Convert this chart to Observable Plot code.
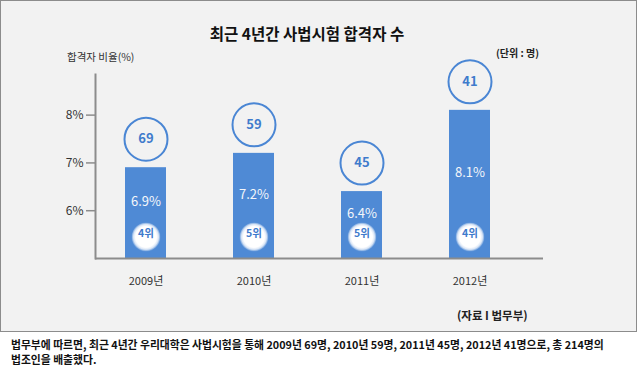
<!DOCTYPE html>
<html><head><meta charset="utf-8">
<script src="https://cdn.jsdelivr.net/npm/d3@7"></script>
<script src="https://cdn.jsdelivr.net/npm/@observablehq/plot@0.6"></script>
<style>
body{margin:0;background:#fff;font-family:"Noto Sans CJK KR","Noto Sans",sans-serif;width:640px;height:367px;position:relative;overflow:hidden;}
#box{position:absolute;left:0;top:0;width:637px;height:332px;box-sizing:border-box;border:1px solid #8c8c8c;background:#f2f2f2;}
.abs{position:absolute;white-space:nowrap;}
#title{left:0;width:614px;top:22px;text-align:center;font-weight:700;font-size:15.5px;line-height:22px;color:#111;}
#ylabel{left:67px;top:50px;font-size:10.5px;line-height:14px;color:#333;}
#unit{left:496px;top:46px;font-size:10px;font-weight:700;line-height:14px;color:#222;}
#source{left:457px;top:308px;font-size:11.5px;font-weight:700;line-height:14px;color:#222;}
.cap{left:11px;font-size:10.8px;font-weight:700;line-height:15px;color:#111;}
#cap1{top:337px;}
#cap2{top:352px;}
#chart{position:absolute;left:0;top:44px;}
</style></head>
<body>
<div id="box"></div>
<div id="title" class="abs">최근 4년간 사법시험 합격자 수</div>
<div id="ylabel" class="abs">합격자 비율(%)</div>
<div id="unit" class="abs">(단위 : 명)</div>
<div id="source" class="abs">(자료 I 법무부)</div>
<div id="cap1" class="abs cap">법무부에 따르면, 최근 4년간 우리대학은 사법시험을 통해 2009년 69명, 2010년 59명, 2011년 45명, 2012년 41명으로, 총 214명의</div>
<div id="cap2" class="abs cap">법조인을 배출했다.</div>
<div id="chart"></div>
<script>
const years = ["2009", "2010", "2011", "2012"];
const rates = [6.9, 7.2, 6.4, 8.1];
const counts = [69, 59, 45, 41];
const ranks = ["4위", "5위", "5위", "4위"];
const yTicks = [6, 7, 8];

const data = years.map((y, i) => ({year: y, rate: rates[i], count: counts[i], rank: ranks[i]}));
const yMin = 5, yMax = 8.85, labelBase = 5.48;
const blue = "#4f8ad5", ringBlue = "#4a86d4", textBlue = "#3f7bcc", axisGray = "#8c8c8c";
const font = '"Noto Sans CJK KR","Noto Sans",sans-serif';

const svg = Plot.plot({
  width: 640, height: 286,
  marginLeft: 95, marginRight: 97, marginTop: 30, marginBottom: 72,
  style: {background: "transparent", fontFamily: font},
  x: {type: "band", domain: years, range: [124, 489.5], paddingInner: 0.625, paddingOuter: 0, label: null},
  y: {domain: [yMin, yMax], label: null},
  marks: [
    Plot.rectY(data, {x: "year", y1: yMin, y2: "rate", fill: blue}),
    Plot.ruleY([yMin], {stroke: axisGray, strokeWidth: 2}),
    Plot.frame({anchor: "left", stroke: axisGray, strokeWidth: 2}),
    Plot.axisY({ticks: yTicks, tickFormat: d => d + "%", tickSize: 9, tickPadding: 3, fontSize: 12, stroke: axisGray, strokeWidth: 1.5, color: "#333", label: null}),
    Plot.axisX({tickSize: 0, tickPadding: 19, tickFormat: d => d + "년", fontSize: 11, color: "#333", label: null}),
    Plot.dot(data, {x: "year", y: "rate", dy: -28.5, r: 21.5, stroke: ringBlue, strokeWidth: 2, fill: "none"}),
    Plot.text(data, {x: "year", y: "rate", dy: -28.5, text: d => String(d.count), fill: textBlue, fontSize: 13, fontWeight: 700}),
    Plot.text(data, {x: "year", y: d => (d.rate + labelBase) / 2, text: d => d.rate.toFixed(1) + "%", fill: "#f4f6fa", fontSize: 13}),
    Plot.dot(data, {x: "year", frameAnchor: "bottom", dy: -21.6, r: 14.5, fill: "url(#rankGlow)"}),
    Plot.text(data, {x: "year", frameAnchor: "bottom", dy: -21.6, text: "rank", fill: textBlue, fontSize: 10.5, fontWeight: 700})
  ]
});
const defs = document.createElementNS("http://www.w3.org/2000/svg", "defs");
defs.innerHTML = '<radialGradient id="rankGlow"><stop offset="0.72" stop-color="#ffffff"/><stop offset="0.86" stop-color="#f4f7fc" stop-opacity="0.85"/><stop offset="1" stop-color="#ffffff" stop-opacity="0.1"/></radialGradient>';
svg.insertBefore(defs, svg.firstChild);
document.getElementById("chart").appendChild(svg);

// fit the first caption line to the reference's width
const cap1 = document.getElementById("cap1");
const w = cap1.getBoundingClientRect().width;
const n = cap1.textContent.length;
if (w > 618) cap1.style.letterSpacing = ((618 - w) / n) + "px";
</script>
</body></html>
